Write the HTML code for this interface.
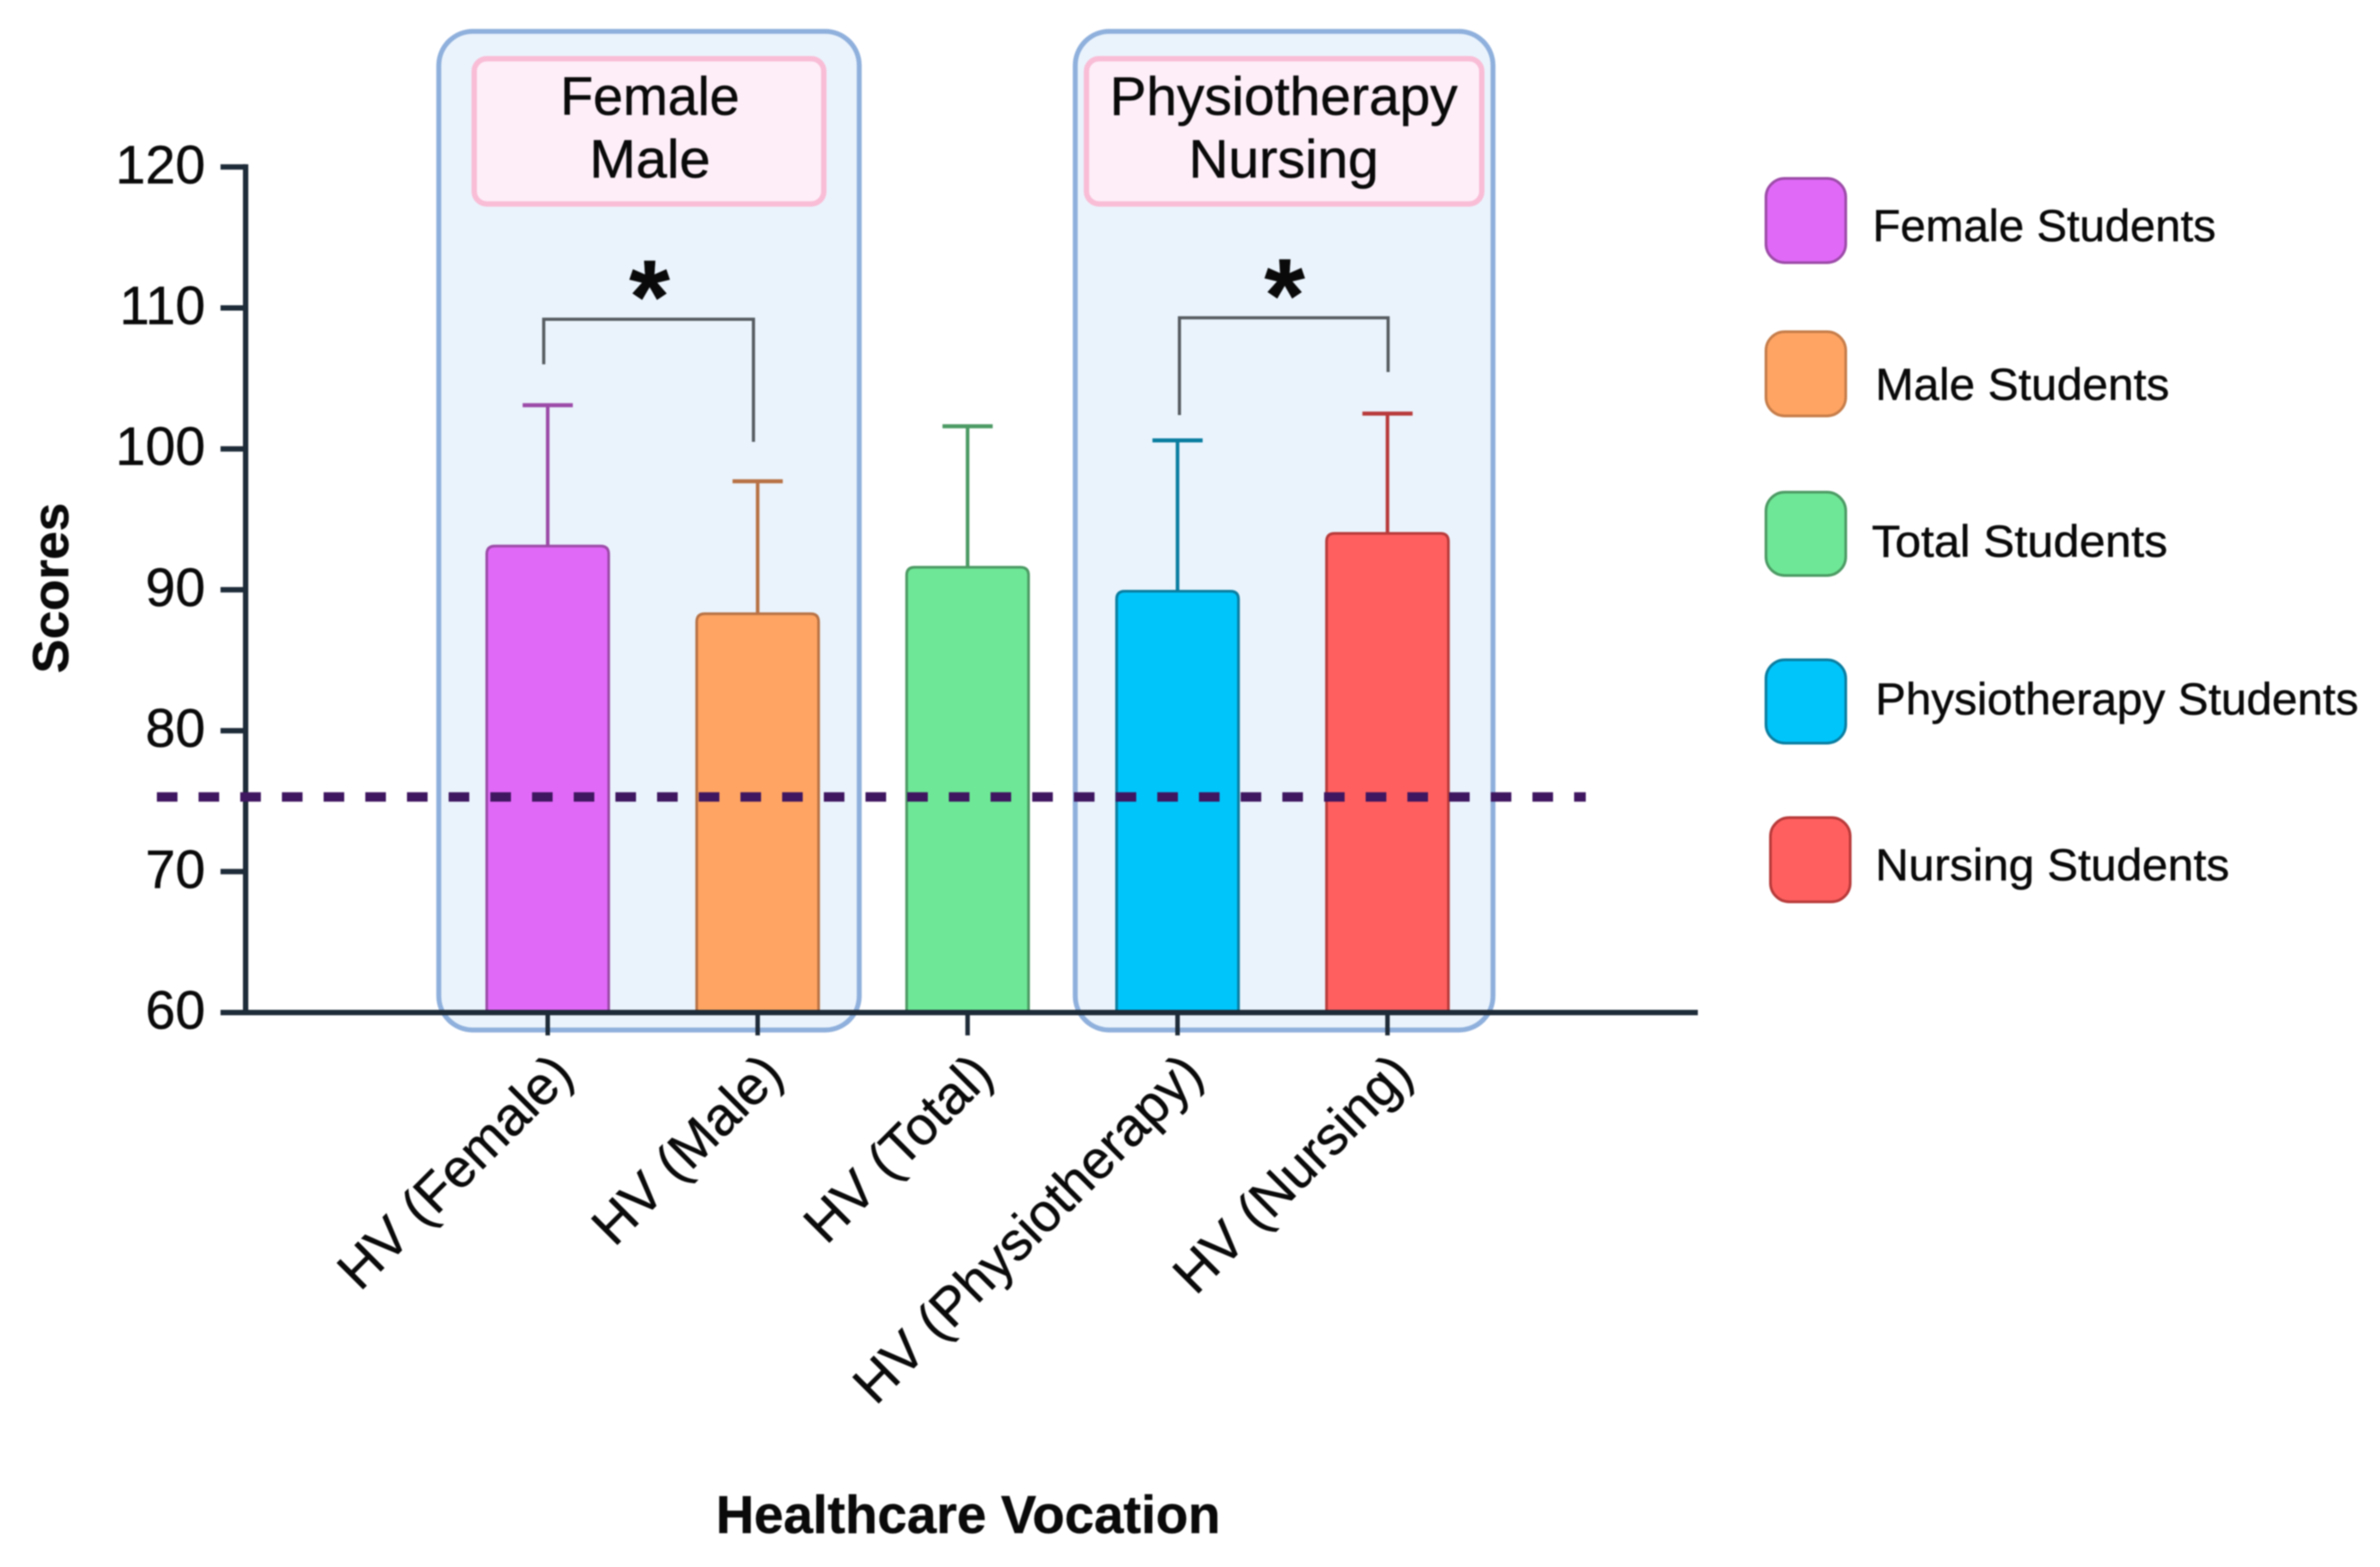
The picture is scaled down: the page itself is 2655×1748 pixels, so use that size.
<!DOCTYPE html>
<html lang="en">
<head>
<meta charset="utf-8">
<title>Healthcare Vocation Scores</title>
<style>
  html, body { margin: 0; padding: 0; background: #fff; }
  svg { display: block; filter: blur(0.9px); }
  text { font-family: "Liberation Sans", sans-serif; fill: #0a0a0a; stroke: #0a0a0a; stroke-width: 0.5px; }
</style>
</head>
<body>
<svg id="chart" xmlns="http://www.w3.org/2000/svg" width="2655" height="1748" viewBox="0 0 2655 1748">
  <rect x="0" y="0" width="2655" height="1748" fill="#ffffff"/>
  <g id="groups">
    <rect x="489.5" y="35" width="469" height="1114" rx="38" ry="38" fill="#eaf3fc" stroke="#8fb0dc" stroke-width="5.5"/>
    <rect x="1199.5" y="35" width="466" height="1114" rx="38" ry="38" fill="#eaf3fc" stroke="#8fb0dc" stroke-width="5.5"/>
    <rect x="529" y="65.5" width="390" height="162" rx="14" ry="14" fill="#fdeef8" stroke="#f9bdd6" stroke-width="6"/>
    <rect x="1212" y="65.5" width="441" height="162" rx="14" ry="14" fill="#fdeef8" stroke="#f9bdd6" stroke-width="6"/>
    <text x="725" y="128" font-size="60" text-anchor="middle">Female</text>
    <text x="725" y="198" font-size="60" text-anchor="middle" textLength="135" lengthAdjust="spacingAndGlyphs">Male</text>
    <text x="1432" y="128" font-size="60" text-anchor="middle" textLength="388" lengthAdjust="spacingAndGlyphs">Physiotherapy</text>
    <text x="1432" y="198" font-size="60" text-anchor="middle" textLength="212" lengthAdjust="spacingAndGlyphs">Nursing</text>
  </g>
  <g id="marks"></g>
  <g id="axes"></g>
  <g id="overlay"></g>
  <text transform="translate(76,656) rotate(-90)" font-size="57" font-weight="700" text-anchor="middle">Scores</text>
  <text x="1080" y="1710" font-size="59" font-weight="700" text-anchor="middle">Healthcare Vocation</text>
  <g>
    <rect x="1970" y="199" width="89" height="94" rx="21" fill="#e169f8" stroke="#9c4ba8" stroke-width="3"/>
    <text x="2089" y="269" font-size="50" textLength="383" lengthAdjust="spacingAndGlyphs">Female Students</text>
    <rect x="1970" y="370" width="89" height="94" rx="21" fill="#ffa462" stroke="#c67d4a" stroke-width="3"/>
    <text x="2092" y="446" font-size="50" textLength="328" lengthAdjust="spacingAndGlyphs">Male Students</text>
    <rect x="1970" y="549" width="89" height="93" rx="21" fill="#6ee896" stroke="#4c9a64" stroke-width="3"/>
    <text x="2088" y="621" font-size="50" textLength="330" lengthAdjust="spacingAndGlyphs">Total Students</text>
    <rect x="1970" y="736" width="89" height="93" rx="21" fill="#00c5fb" stroke="#0a7da0" stroke-width="3"/>
    <text x="2092" y="797" font-size="50" textLength="539" lengthAdjust="spacingAndGlyphs">Physiotherapy Students</text>
    <rect x="1975" y="912" width="89" height="94" rx="21" fill="#ff5f5f" stroke="#b83a3a" stroke-width="3"/>
    <text x="2092" y="982" font-size="50" textLength="395" lengthAdjust="spacingAndGlyphs">Nursing Students</text>
  </g>
</svg>
<script>
const categories = ['HV (Female)', 'HV (Male)', 'HV (Total)', 'HV (Physiotherapy)', 'HV (Nursing)'];
const meanScores = [93.1, 88.3, 91.6, 89.9, 94.0];
const upperErrors = [103.1, 97.7, 101.6, 100.6, 102.5];
const yTicks = [60, 70, 80, 90, 100, 110, 120];
const referenceScore = 75.3;
const bracketStart = [-0.019, 3.009];
const bracketEnd = [0.98, 4.003];
const bracketTopScores = [109.2, 109.3];
const bracketLeftEndScores = [106.0, 102.4];
const bracketRightEndScores = [100.5, 105.45];
const bracketMarks = ['*', '*'];
const barFills = ['#e169f8', '#ffa462', '#6ee896', '#00c5fb', '#ff5f5f'];
const barStrokes = ['#9c4ba8', '#b87245', '#4c9a64', '#0a7da0', '#b83a3a'];

const NS = 'http://www.w3.org/2000/svg';
const xPos = (i) => 611 + 234.2 * i;
const yPos = (v) => 1129.5 - (v - 60) * 15.72;
const axisColor = '#1e2b38';
const marks = document.getElementById('marks');
const axes = document.getElementById('axes');
const overlay = document.getElementById('overlay');

function make(tag, parent, attrs) {
  const el = document.createElementNS(NS, tag);
  for (const k in attrs) el.setAttribute(k, attrs[k]);
  parent.appendChild(el);
  return el;
}

categories.forEach((name, i) => {
  const cx = xPos(i);
  const halfW = 68;
  const top = yPos(meanScores[i]);
  const base = yPos(60);
  const errTop = yPos(upperErrors[i]);

  const whisker = make('line', marks, { x1: cx, x2: cx, y1: top, y2: errTop, stroke: barStrokes[i], 'stroke-width': 4 });
  
  

  const cap = make('line', marks, { x1: cx - 28, x2: cx + 28, y1: errTop, y2: errTop, stroke: barStrokes[i], 'stroke-width': 4.5 });
  
  

  const r = 9;
  const d = 'M' + (cx - halfW) + ' ' + base + 'V' + (top + r) + 'Q' + (cx - halfW) + ' ' + top + ' ' + (cx - halfW + r) + ' ' + top +
            'H' + (cx + halfW - r) + 'Q' + (cx + halfW) + ' ' + top + ' ' + (cx + halfW) + ' ' + (top + r) + 'V' + base;
  const bar = make('path', marks, { d: d, fill: barFills[i], stroke: barStrokes[i], 'stroke-width': 3 });
  
  

  const tick = make('line', axes, { x1: cx, x2: cx, y1: base, y2: 1155, stroke: axisColor, 'stroke-width': 5 });
  
  

  const lx = cx + 31;
  const ly = 1201;
  const label = make('text', axes, { x: 0, y: 0, 'font-size': 60, 'text-anchor': 'end', transform: 'translate(' + lx + ',' + ly + ') rotate(-45)' });
  label.textContent = name;
  
  
});

const yLine = make('line', axes, { x1: 274, x2: 274, y1: yPos(120) - 3, y2: yPos(60) + 3, stroke: axisColor, 'stroke-width': 6 });



const xLine = make('line', axes, { x1: 246, x2: 1894, y1: yPos(60), y2: yPos(60), stroke: axisColor, 'stroke-width': 6 });



yTicks.forEach((v) => {
  const t = make('line', axes, { x1: 246, x2: 274, y1: yPos(v), y2: yPos(v), stroke: axisColor, 'stroke-width': 6 });
  
  

  const lab = make('text', axes, { x: 229, y: yPos(v) + 18, 'font-size': 60, 'text-anchor': 'end' });
  lab.textContent = String(v);
  
  
});

const ref = make('line', overlay, { x1: 175, x2: 1769, y1: yPos(referenceScore), y2: yPos(referenceScore), stroke: '#3f1660', 'stroke-width': 10.5, 'stroke-dasharray': '23 23.5' });



bracketStart.forEach((s, k) => {
  const x1 = xPos(s);
  const x2 = xPos(bracketEnd[k]);
  const d = 'M' + x1 + ' ' + yPos(bracketLeftEndScores[k]) + 'V' + yPos(bracketTopScores[k]) + 'H' + x2 + 'V' + yPos(bracketRightEndScores[k]);
  const br = make('path', overlay, { d: d, fill: 'none', stroke: '#555b60', 'stroke-width': 3.5 });
  
  

  const star = make('text', overlay, { x: (x1 + x2) / 2 + 1, y: yPos(bracketTopScores[k]) + 15, 'font-size': 116, 'font-weight': 700, 'text-anchor': 'middle' });
  star.textContent = bracketMarks[k];
  
  
});
</script>
</body>
</html>
